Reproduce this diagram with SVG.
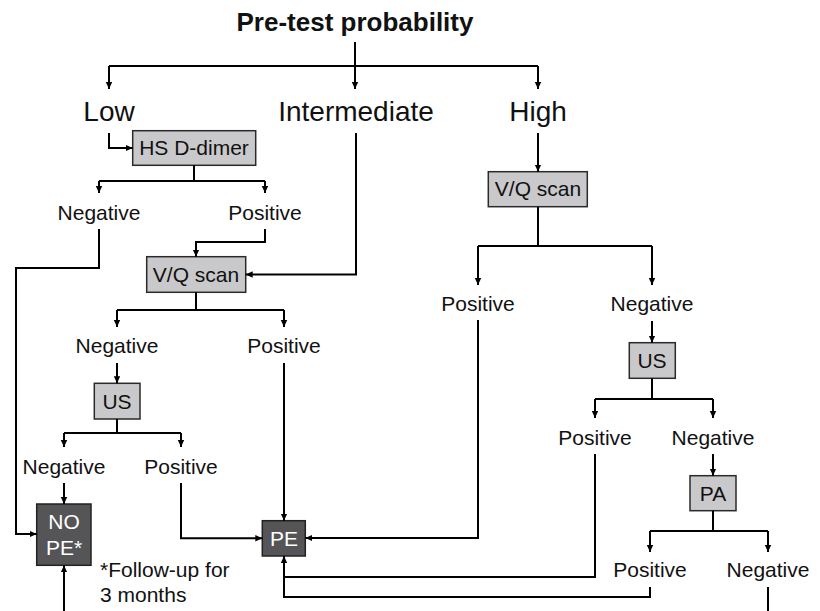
<svg xmlns="http://www.w3.org/2000/svg" width="820" height="611" viewBox="0 0 820 611">
<defs>
<marker id="ah" markerUnits="userSpaceOnUse" markerWidth="8" markerHeight="8" refX="7" refY="4" orient="auto">
<path d="M0,0.8 L7,4 L0,7.2 z" fill="#000"/>
</marker>
<style>
text{font-family:"Liberation Sans",Arial,Helvetica,sans-serif;fill:#111;}
.t{font-size:21px;text-anchor:middle;}
.big{font-size:28px;text-anchor:middle;}
.title{font-size:26px;font-weight:bold;text-anchor:middle;}
.box{fill:#c9c9cb;stroke:#2a2a2a;stroke-width:1.5;}
.dark{fill:#555557;stroke:#222;stroke-width:1.5;}
.w{fill:#fff;}
.c path{fill:none;stroke:#000;stroke-width:2;}
.a{marker-end:url(#ah);}
</style>
</defs>
<rect width="820" height="611" fill="#fff"/>
<g id="title"><text class="title" x="355" y="31">Pre-test probability</text></g>
<g id="low"><text class="big" x="109" y="121">Low</text></g>
<g id="intermediate"><text class="big" x="356" y="121">Intermediate</text></g>
<g id="high"><text class="big" x="538" y="121">High</text></g>
<g id="hsddimer"><rect class="box" x="132.7" y="130.7" width="123" height="34.6"/><text class="t" x="194" y="155">HS D-dimer</text></g>
<g id="neg1"><text class="t" x="99" y="220">Negative</text></g>
<g id="pos1"><text class="t" x="265" y="220">Positive</text></g>
<g id="vq1"><rect class="box" x="146.7" y="256.7" width="99" height="35.6"/><text class="t" x="196" y="282">V/Q scan</text></g>
<g id="neg2"><text class="t" x="117" y="353">Negative</text></g>
<g id="pos2"><text class="t" x="284" y="353">Positive</text></g>
<g id="us1"><rect class="box" x="94.3" y="383.3" width="45.7" height="35.7"/><text class="t" x="117" y="409">US</text></g>
<g id="neg3"><text class="t" x="64" y="474">Negative</text></g>
<g id="pos3"><text class="t" x="181" y="474">Positive</text></g>
<g id="nope"><rect class="dark" x="36.7" y="504" width="54.3" height="61.3"/><text class="t w" x="64" y="529">NO</text><text class="t w" x="64" y="555">PE*</text></g>
<g id="note"><text style="font-size:21px" x="100" y="577">*Follow-up for</text><text style="font-size:21px" x="100" y="602">3 months</text></g>
<g id="pe"><rect class="dark" x="262.3" y="520.7" width="43" height="35.3"/><text class="t w" x="284" y="546">PE</text></g>
<g id="vq2"><rect class="box" x="488.3" y="171.7" width="99" height="35"/><text class="t" x="538" y="196">V/Q scan</text></g>
<g id="pos4"><text class="t" x="478" y="311">Positive</text></g>
<g id="neg4"><text class="t" x="652" y="311">Negative</text></g>
<g id="us2"><rect class="box" x="629.3" y="342.7" width="46" height="35.6"/><text class="t" x="652" y="368">US</text></g>
<g id="pos5"><text class="t" x="595" y="445">Positive</text></g>
<g id="neg5"><text class="t" x="713" y="445">Negative</text></g>
<g id="pa"><rect class="box" x="690" y="475.7" width="46" height="35"/><text class="t" x="713" y="501">PA</text></g>
<g id="pos6"><text class="t" x="650" y="577">Positive</text></g>
<g id="neg6"><text class="t" x="768" y="577">Negative</text></g>
<g id="connectors" class="c">
<path d="M355,42 V66"/>
<path d="M109,66 H538"/>
<path class="a" d="M109,66 V89"/>
<path class="a" d="M355,66 V89"/>
<path class="a" d="M538,66 V89"/>
<path class="a" d="M109,133 V148 H132.7"/>
<path class="a" d="M356,133 V274.5 H245.7"/>
<path class="a" d="M538,133 V171.7"/>
<path d="M194,165.3 V181"/>
<path d="M99,181 H265"/>
<path class="a" d="M99,181 V193"/>
<path class="a" d="M265,181 V193"/>
<path class="a" d="M99,229 V268 H16 V534 H36.7"/>
<path class="a" d="M265,229 V242 H196 V256.7"/>
<path d="M196,292.3 V310"/>
<path d="M117,310 H284"/>
<path class="a" d="M117,310 V327"/>
<path class="a" d="M284,310 V327"/>
<path class="a" d="M117,363 V383.3"/>
<path class="a" d="M284,363 V520.7"/>
<path d="M117,419 V433"/>
<path d="M64,433 H181"/>
<path class="a" d="M64,433 V447"/>
<path class="a" d="M181,433 V447"/>
<path class="a" d="M64,483 V504"/>
<path class="a" d="M181,483 V538.3 H262.3"/>
<path class="a" d="M64,611 V565.3"/>
<path d="M538,206.7 V246"/>
<path d="M478,246 H652"/>
<path class="a" d="M478,246 V285"/>
<path class="a" d="M652,246 V285"/>
<path class="a" d="M478,320 V538 H305.3"/>
<path class="a" d="M652,321 V342.7"/>
<path d="M652,378.3 V399"/>
<path d="M595,399 H713"/>
<path class="a" d="M595,399 V418"/>
<path class="a" d="M713,399 V418"/>
<path class="a" d="M713,454 V475.7"/>
<path d="M595,454 V577 H284"/>
<path class="a" d="M650,587 V597 H284 V556"/>
<path d="M713,510.7 V531"/>
<path d="M650,531 H768"/>
<path class="a" d="M650,531 V552"/>
<path class="a" d="M768,531 V552"/>
<path d="M768,587 V611"/>
</g>
</svg>
